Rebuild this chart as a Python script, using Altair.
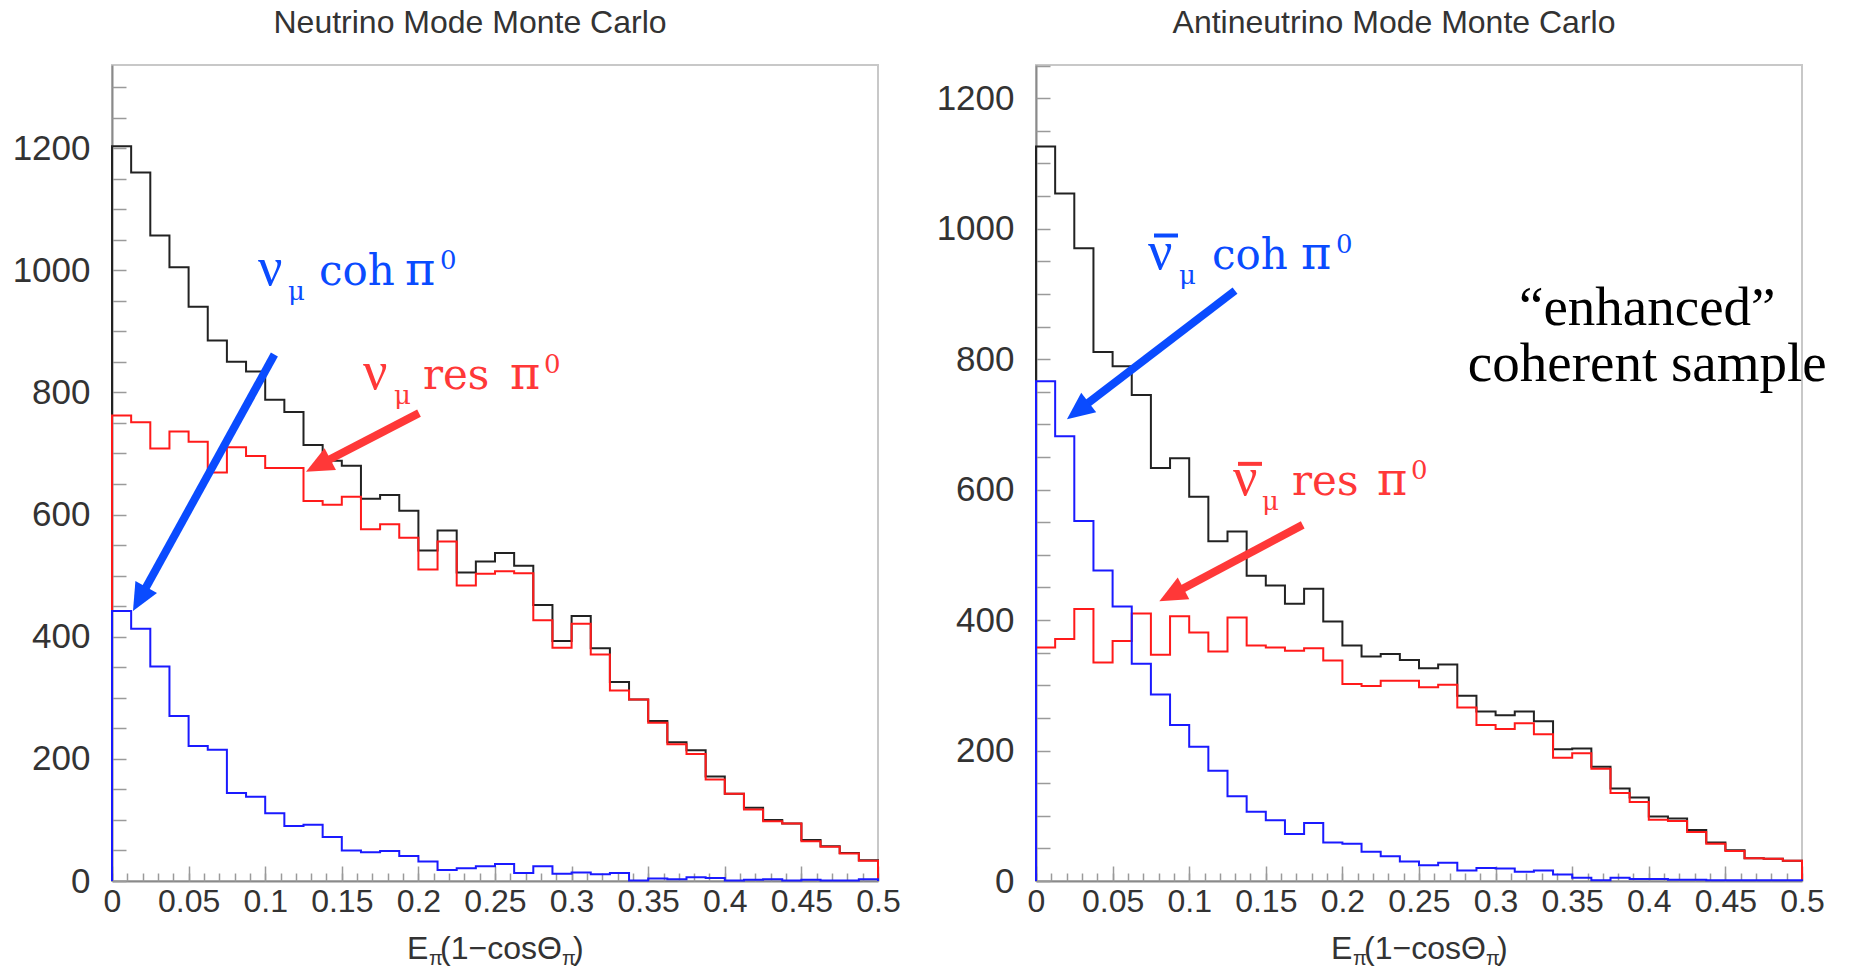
import math
import altair as alt
import pandas as pd

# ---------------- data ----------------
N_BINS = 40
BIN_W = 0.0125

nu_total = [1203, 1160, 1057, 1005, 940, 885, 850, 834, 788, 768,
            714, 688, 680, 626, 632, 606, 541, 574, 505, 523,
            537, 516, 452, 393, 434, 381, 326, 297, 262, 227,
            214, 171, 143, 120, 100, 94, 67, 57, 46, 34]
nu_res = [762, 751, 708, 736, 719, 669, 710, 696, 676, 676,
          622, 616, 629, 576, 584, 562, 510, 556, 484, 503,
          507, 504, 427, 382, 421, 371, 312, 297, 259, 224,
          208, 166, 143, 117, 98, 94, 65, 56, 45, 33]
nu_coh = [442, 413, 351, 270, 221, 215, 144, 138, 111, 90,
          92, 72, 50, 47, 49, 41, 32, 18, 21, 24,
          28, 13, 24, 12, 14, 11, 13, 1, 4, 3,
          6, 5, 1, 2, 3, 1, 2, 1, 1, 3]

anu_total = [1126, 1054, 970, 811, 789, 745, 633, 648, 589, 521,
             536, 468, 453, 425, 448, 398, 361, 344, 348, 339,
             326, 332, 284, 260, 254, 260, 245, 202, 203, 175,
             142, 128, 99, 96, 78, 59, 47, 35, 34, 31]
anu_res = [358, 371, 417, 335, 368, 410, 347, 406, 381, 352,
           404, 361, 358, 353, 357, 338, 302, 299, 307, 307,
           297, 301, 266, 239, 233, 242, 225, 189, 196, 172,
           135, 121, 94, 92, 75, 57, 46, 35, 34, 31]
anu_coh = [766, 682, 552, 476, 421, 333, 286, 239, 206, 169,
           130, 106, 93, 72, 89, 59, 57, 45, 38, 30,
           24, 28, 16, 20, 19, 14, 16, 10, 5, 1,
           5, 3, 3, 2, 2, 1, 1, 1, 1, 1]

x_label_values = [0, 0.05, 0.1, 0.15, 0.2, 0.25, 0.3, 0.35, 0.4, 0.45, 0.5]
x_minor_values = [i / 100 for i in range(0, 51)]
y_label_values = [0, 200, 400, 600, 800, 1000, 1200]
y_minor_values = list(range(0, 1301, 50))

titles = ["Neutrino Mode Monte Carlo", "Antineutrino Mode Monte Carlo"]
y_max = [1336, 1251]

# annotation labels: anchor (start of nu glyph, baseline) in data coords
nu_label_x = [0.0953, 0.1638]
nu_label_y = [975, 806]
anu_label_x = [0.0731, 0.1286]
anu_label_y = [939, 592]
label_words = ["coh", "res"]

# arrows: start -> tip, data coords
nu_arrow_x0 = [0.1060, 0.2004]
nu_arrow_y0 = [862, 766]
nu_arrow_x1 = [0.0137, 0.1266]
nu_arrow_y1 = [442, 670]
anu_arrow_x0 = [0.1299, 0.1741]
anu_arrow_y0 = [905, 546]
anu_arrow_x1 = [0.0202, 0.0805]
anu_arrow_y1 = [708, 429]

enhanced_text = "\u201cenhanced\u201d\ncoherent sample"
enhanced_x = 0.399
enhanced_y = 853

# ---------------- styling ----------------
PANEL_W = 766
PANEL_H = 816
X_MAX = 0.5
SANS = "Liberation Sans"
SERIF = "Liberation Serif"
LSERIF = "DejaVu Serif"
TXT = "#333333"
C_TOTAL = "#222222"
C_RES = "#ff1a1a"
C_COH = "#1a1aff"
L_BLUE = "#0a4bff"
L_RED = "#ff3838"
HEAD = "M0,0L-0.45,1L0.45,1Z"
LBL_SIZE = 42


def xs():
    return alt.Scale(domain=[0, X_MAX], nice=False, zero=False)


def ys(ymax):
    return alt.Scale(domain=[0, ymax], nice=False, zero=False)


def step_df(values):
    xs_, ys_ = [0.0], [0.0]
    for i, v in enumerate(values):
        xs_ += [i * BIN_W, (i + 1) * BIN_W]
        ys_ += [v, v]
    xs_.append(N_BINS * BIN_W)
    ys_.append(0.0)
    return pd.DataFrame({"x": xs_, "y": ys_, "o": list(range(len(xs_)))})


def hist(values, color, ymax, xaxis, yaxis):
    return alt.Chart(step_df(values)).mark_line(
        color=color, strokeWidth=2, interpolate="linear").encode(
        x=alt.X("x:Q", scale=xs(), axis=xaxis),
        y=alt.Y("y:Q", scale=ys(ymax), axis=yaxis),
        order="o:Q")


def piece(x, y, ymax, text, size, dx, dy, color, font=LSERIF, align="left", **kw):
    df = pd.DataFrame({"x": [x], "y": [y]})
    return alt.Chart(df).mark_text(
        text=text, fontSize=size, dx=dx, dy=dy, align=align,
        baseline="alphabetic", color=color, font=font, **kw).encode(
        x=alt.X("x:Q", scale=xs(), axis=None),
        y=alt.Y("y:Q", scale=ys(ymax), axis=None))


def overline(x, y, ymax, color, x_a, x_b, up):
    df = pd.DataFrame({"x": [x], "y": [y]})
    return alt.Chart(df).mark_rule(
        color=color, strokeWidth=4, xOffset=x_a, x2Offset=x_b,
        yOffset=-up, y2Offset=-up).encode(
        x=alt.X("x:Q", scale=xs(), axis=None), x2="x:Q",
        y=alt.Y("y:Q", scale=ys(ymax), axis=None), y2="y:Q")


def arrows(x0, y0, x1, y1, colors, ymax):
    sx = PANEL_W / X_MAX
    sy = PANEL_H / ymax
    rows = []
    for a, b, c, d, col in zip(x0, y0, x1, y1, colors):
        dxp = (c - a) * sx
        dyp = -(d - b) * sy
        L = math.hypot(dxp, dyp)
        ux, uy = dxp / L, dyp / L
        back = 20.0
        rows.append({"x0": a, "y0": b, "x1": c, "y1": d,
                     "xe": c - back * ux / sx, "ye": d + back * uy / sy,
                     "ang": math.degrees(math.atan2(ux, -uy)) % 360,
                     "c": col})
    df = pd.DataFrame(rows)
    shaft = alt.Chart(df).mark_rule(strokeWidth=8).encode(
        x=alt.X("x0:Q", scale=xs(), axis=None), x2="xe:Q",
        y=alt.Y("y0:Q", scale=ys(ymax), axis=None), y2="ye:Q",
        color=alt.Color("c:N", scale=None))
    head = alt.Chart(df).mark_point(
        shape=HEAD, filled=True, size=3000, opacity=1, strokeWidth=0).encode(
        x=alt.X("x1:Q", scale=xs(), axis=None),
        y=alt.Y("y1:Q", scale=ys(ymax), axis=None),
        angle=alt.Angle("ang:Q", scale=None),
        color=alt.Color("c:N", scale=None))
    return [shaft, head]


def label(x, y, ymax, color, word, dxs, bar=None):
    d_mu, d_word, d_pi, d_sup = dxs
    out = [
        piece(x, y, ymax, "\u03bd", 54, 0, 0, color, font=SERIF),
        piece(x, y, ymax, "\u03bc", 26, d_mu, 15, color),
        piece(x, y, ymax, word, LBL_SIZE, d_word, 0, color),
        piece(x, y, ymax, "\u03c0", LBL_SIZE + 4, d_pi, 0, color),
        piece(x, y, ymax, "0", 26, d_sup, -16, color),
    ]
    if bar is not None:
        out.append(overline(x, y, ymax, color, bar[0], bar[1], bar[2]))
    return out


def axis_title(ymax):
    parts = [("E", 32, -88, 78), ("\u03c0", 20, -66, 84),
             ("(1\u2212cos\u0398", 32, -55, 78), ("\u03c0", 20, 67, 84),
             (")", 32, 78, 78)]
    return [piece(X_MAX / 2, 0, ymax, t, s, dx, dy, TXT, font=SANS)
            for t, s, dx, dy in parts]


def axes():
    x_lab = alt.Axis(values=x_label_values, format=".2~f", ticks=False, tickSize=0,
                     labelPadding=5, labelFontSize=32, labelFont=SANS, labelColor=TXT,
                     labelFlush=False, domainColor="#8a8a8a", domainWidth=2,
                     title=None, grid=False, orient="bottom")
    x_min = alt.Axis(values=x_minor_values, labels=False, domain=False, tickSize=8,
                     offset=-8, tickColor="#9a9a9a", tickWidth=1.5, title=None,
                     grid=False, orient="bottom")
    x_maj = alt.Axis(values=x_label_values, labels=False, domain=False, tickSize=15,
                     offset=-15, tickColor="#9a9a9a", tickWidth=1.5, title=None,
                     grid=False, orient="bottom")
    y_lab = alt.Axis(values=y_label_values, format="d", ticks=False, tickSize=0,
                     labelPadding=22, labelFontSize=35, labelFont=SANS, labelColor=TXT,
                     domainColor="#8a8a8a", domainWidth=2, title=None, grid=False,
                     orient="left")
    y_min = alt.Axis(values=y_minor_values, labels=False, domain=False, tickSize=14,
                     offset=-14, tickColor="#9a9a9a", tickWidth=1.5, title=None,
                     grid=False, orient="left")
    return x_lab, x_min, x_maj, y_lab, y_min


def panel(total, res, coh, ymax, title, lab_x, lab_y, ax0, ay0, ax1, ay1,
          dx_sets, bars, extra):
    x_lab, x_min, x_maj, y_lab, y_min = axes()
    layers = [
        hist(total, C_TOTAL, ymax, x_lab, y_lab),
        hist(res, C_RES, ymax, x_min, y_min),
        hist(coh, C_COH, ymax, x_maj, None),
    ]
    layers += arrows(ax0, ay0, ax1, ay1, [L_BLUE, L_RED], ymax)
    for i, col in enumerate([L_BLUE, L_RED]):
        layers += label(lab_x[i], lab_y[i], ymax, col, label_words[i], dx_sets[i],
                        bars[i] if bars else None)
    layers += axis_title(ymax)
    layers += extra
    return alt.layer(*layers).resolve_axis(x="independent", y="independent").properties(
        width=PANEL_W, height=PANEL_H,
        title=alt.TitleParams(text=title, fontSize=32, font=SANS, fontWeight="normal",
                              color=TXT, offset=25, dx=-25, anchor="middle"))


left = panel(nu_total, nu_res, nu_coh, y_max[0], titles[0], nu_label_x, nu_label_y,
             nu_arrow_x0, nu_arrow_y0, nu_arrow_x1, nu_arrow_y1,
             [(30, 61, 147, 182), (31, 60, 147, 181)], None, [])

enh = [piece(enhanced_x, enhanced_y, y_max[1], enhanced_text, 55, 0, 0,
             "#000000", font=SERIF, align="center", lineBreak="\n", lineHeight=56)]
right = panel(anu_total, anu_res, anu_coh, y_max[1], titles[1], anu_label_x, anu_label_y,
              anu_arrow_x0, anu_arrow_y0, anu_arrow_x1, anu_arrow_y1,
              [(31, 64, 153, 188), (29, 59, 144, 178)],
              [(6, 30, 33), (5, 29, 31)], enh)

chart = alt.hconcat(left, right, spacing=33).properties(
    padding={"left": 11, "top": 6, "right": 0, "bottom": 0},
    background="white",
).configure_view(stroke="#c8c8c8", strokeWidth=2)

chart.save("out.html", embed_options={"renderer": "svg", "actions": False})
